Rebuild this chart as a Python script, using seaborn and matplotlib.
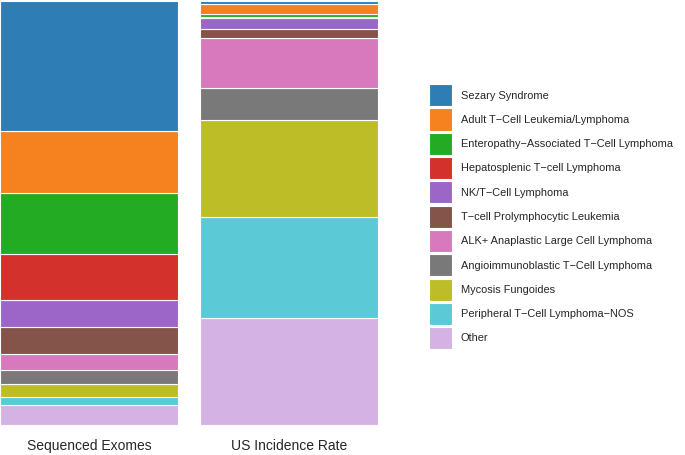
import pandas as pd
import seaborn as sns
import matplotlib.pyplot as plt
from matplotlib.patches import Patch

# Subtypes, top of the stack first (same order as legend)
subtypes = [
    "Sezary Syndrome",
    "Adult T\u2212Cell Leukemia/Lymphoma",
    "Enteropathy\u2212Associated T\u2212Cell Lymphoma",
    "Hepatosplenic T\u2212cell Lymphoma",
    "NK/T\u2212Cell Lymphoma",
    "T\u2212cell Prolymphocytic Leukemia",
    "ALK+ Anaplastic Large Cell Lymphoma",
    "Angioimmunoblastic T\u2212Cell Lymphoma",
    "Mycosis Fungoides",
    "Peripheral T\u2212Cell Lymphoma\u2212NOS",
    "Other",
]
colors = ["#2e7db5", "#f5821f", "#24ab24", "#d3322c", "#9c66c8", "#845349",
          "#d879bd", "#797979", "#bdbd28", "#5ccad6", "#d4b2e3"]

cohorts = ["Sequenced Exomes", "US Incidence Rate"]
# percent of each cohort
exome_pct = [30.6, 14.8, 14.4, 10.9, 6.2, 6.4, 3.8, 3.3, 3.1, 1.9, 4.8]
incidence_pct = [0.7, 2.4, 0.6, 0.2, 2.6, 2.2, 11.7, 7.4, 22.8, 23.7, 25.2]

df = pd.DataFrame({
    "cohort": [cohorts[0]] * len(subtypes) + [cohorts[1]] * len(subtypes),
    "subtype": subtypes + subtypes,
    "pct": exome_pct + incidence_pct,
})

sns.set_style("white")
plt.rcParams["font.family"] = ["Liberation Sans", "DejaVu Sans"]

fig = plt.figure(figsize=(6.85, 4.55), dpi=100)
ax = fig.add_axes([0.0, 0.065, 0.552, 0.933])

# seaborn puts the first hue level on top of the stack
sns.histplot(data=df, x="cohort", hue="subtype", weights="pct",
             multiple="fill", discrete=True, shrink=0.89,
             hue_order=subtypes, palette=colors,
             edgecolor="white", linewidth=0.8, alpha=1, legend=False, ax=ax)

ax.set_xlim(-0.447, 1.447)
ax.set_ylim(0, 1)
ax.set_xlabel("")
ax.set_ylabel("")
ax.set_yticks([])
ax.tick_params(axis="x", length=0, pad=10, labelsize=10)
sns.despine(ax=ax, left=True, bottom=True)

handles = [Patch(facecolor=c, edgecolor="white", linewidth=0.8) for c in colors]
fig.legend(handles, subtypes, loc="upper left", bbox_to_anchor=(0.627, 0.815),
           frameon=False, fontsize=7.95, handlelength=2.0, handleheight=2.7,
           labelspacing=0.2, handletextpad=0.82, borderpad=0, borderaxespad=0)

fig.savefig("out.png", dpi=100)
